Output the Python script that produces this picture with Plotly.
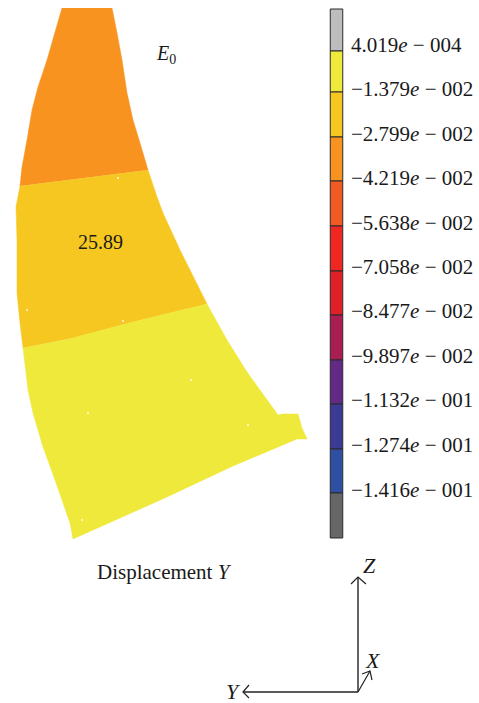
import plotly.graph_objects as go

W, H = 479, 703
SERIF = "Liberation Serif"
INK = "#1a1a1a"

# Contour regions of the blade (image pixels)
orange_x = [62, 55, 47, 38, 32, 27, 22, 20, 148, 140, 133, 127, 122, 117, 112]
orange_y = [8, 32, 60, 87, 110, 140, 167, 186, 170, 143, 120, 93, 60, 33, 8]
amber_x = [20, 16, 17, 17, 20, 23, 73, 133, 207, 180, 163, 157, 148]
amber_y = [186, 207, 240, 293, 323, 348, 338, 322, 304, 250, 213, 197, 170]
yellow_x = [23, 25, 28, 33, 43, 55, 63, 70, 73, 167, 233, 297, 307, 302, 298, 283, 278, 247, 227, 207, 133, 73]
yellow_y = [348, 367, 390, 413, 447, 480, 503, 523, 539, 497, 466, 439, 439, 428, 414, 414, 415, 372, 340, 304, 322, 338]
speck_x = [118, 27, 123, 191, 88, 248, 82]
speck_y = [178, 310, 321, 380, 413, 425, 520]

# Legend bands
band_edges = [9, 51, 92, 137, 181, 226, 271, 315, 360, 404, 449, 493, 538]
band_colors = ["#bdbdbd", "#efe93c", "#f6c721", "#f7931e", "#f15a22", "#ee2722",
               "#e01f26", "#a91d52", "#632a85", "#3b3a94", "#2e4fa2", "#666666"]
level_labels = ["4.019<i>e</i> − 004", "−1.379<i>e</i> − 002", "−2.799<i>e</i> − 002",
                "−4.219<i>e</i> − 002", "−5.638<i>e</i> − 002", "−7.058<i>e</i> − 002",
                "−8.477<i>e</i> − 002", "−9.897<i>e</i> − 002", "−1.132<i>e</i> − 001",
                "−1.274<i>e</i> − 001", "−1.416<i>e</i> − 001"]
level_y = [47, 91, 136, 180, 225, 269, 313, 358, 402, 447, 492]

# Coordinate triad
axis_z_x, axis_z_y = [358, 358], [692, 578]
axis_y_x, axis_y_y = [358, 243], [692, 692]
axis_x_x, axis_x_y = [358, 370], [692, 671]
head_z_x, head_z_y = [351, 358, 366], [584, 577, 584]
head_y_x, head_y_y = [249, 243, 249], [685, 692, 698]
head_x_x, head_x_y = [362, 370, 372], [674, 671, 680]

fig = go.Figure()

for xs, ys, color in [(orange_x, orange_y, "#f7931e"),
                      (amber_x, amber_y, "#f6c721"),
                      (yellow_x, yellow_y, "#efe93c")]:
    fig.add_trace(go.Scatter(x=xs, y=ys, mode="lines", fill="toself", fillcolor=color,
                             line=dict(color=color, width=0.5), hoverinfo="skip"))

fig.add_trace(go.Scatter(x=speck_x, y=speck_y, mode="markers",
                         marker=dict(color="#fffbe0", size=2), hoverinfo="skip"))

fig.add_trace(go.Bar(
    x=[336.5] * len(band_colors),
    base=band_edges[:-1],
    y=[b - a for a, b in zip(band_edges[:-1], band_edges[1:])],
    width=12.5,
    marker=dict(color=band_colors, line=dict(color="#2b2b2b", width=1)),
    hoverinfo="skip",
))

fig.add_trace(go.Scatter(x=[351] * len(level_labels), y=level_y, mode="text",
                         text=level_labels, textposition="middle right",
                         textfont=dict(family=SERIF, size=21, color=INK), hoverinfo="skip"))

for xs, ys, w in [(axis_z_x, axis_z_y, 1.4), (axis_y_x, axis_y_y, 1.4), (axis_x_x, axis_x_y, 1.2),
                  (head_z_x, head_z_y, 1.2), (head_y_x, head_y_y, 1.2), (head_x_x, head_x_y, 1.2)]:
    fig.add_trace(go.Scatter(x=xs, y=ys, mode="lines", line=dict(color="#222222", width=w),
                             hoverinfo="skip"))

notes = [
    (166, 54, "<i>E</i><sub>0</sub>", 20),
    (100, 242, "25.89", 20),
    (164, 572, "Displacement <i>Y</i>", 21),
    (369, 565, "<i>Z</i>", 22),
    (373, 660, "<i>X</i>", 22),
    (233, 691, "<i>Y</i>", 22),
]
for x, y, text, size in notes:
    fig.add_annotation(x=x, y=y, text=text, showarrow=False,
                       font=dict(family=SERIF, size=size, color=INK))

fig.update_layout(
    width=W, height=H, autosize=False, showlegend=False, barmode="overlay",
    margin=dict(l=0, r=0, t=0, b=0),
    paper_bgcolor="white", plot_bgcolor="white",
    xaxis=dict(range=[0, W], visible=False, fixedrange=True),
    yaxis=dict(range=[H, 0], visible=False, fixedrange=True),
)
fig.write_html("out.html", config={"displayModeBar": False},
               post_script="document.body.style.margin='0';document.body.style.overflow='hidden';"
                           "document.documentElement.style.overflow='hidden';")
